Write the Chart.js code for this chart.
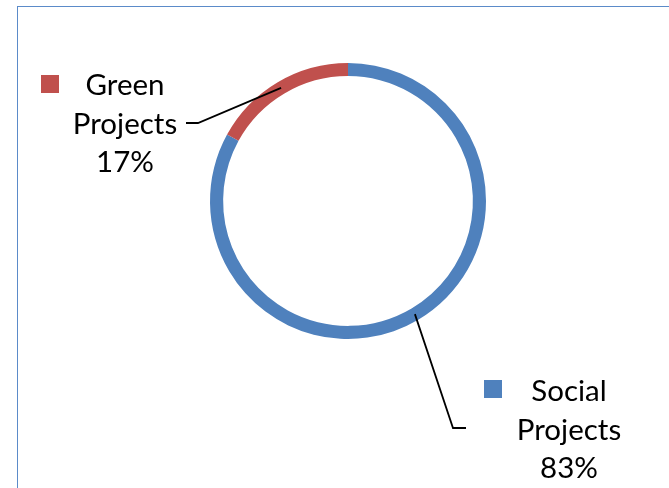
<!DOCTYPE html>
<html>
<head>
<meta charset="utf-8">
<script src="https://cdn.jsdelivr.net/npm/chart.js@4"></script>
<style>
html,body{margin:0;padding:0;background:#fff;}
#wrap{position:relative;width:669px;height:488px;overflow:hidden;}
#frame{position:absolute;left:17px;top:6px;width:700px;height:600px;border-left:1.5px solid #5b8bc9;border-top:1.5px solid #5b8bc9;box-sizing:border-box;}
canvas{position:absolute;left:0;top:0;}
</style>
</head>
<body>
<div id="wrap">
<div id="frame"></div>
<canvas id="c" width="669" height="488"></canvas>
</div>
<script>
const categories = ["Social Projects", "Green Projects"];
const values = [83, 17];
const colors = ["#4F81BD", "#C0504D"];

// label layout: center x, first baseline, square pos, leader elbow and end
const labelLayout = [
  {cx: 569, y0: 401, sq: [484, 380], elbow: [453, 428], end: [466, 428]},
  {cx: 125, y0: 95, sq: [41, 75], elbow: [198, 123], end: [186, 123]}
];

const labelPlugin = {
  id: 'labels',
  afterDatasetsDraw(chart) {
    const ctx = chart.ctx;
    const meta = chart.getDatasetMeta(0);
    const total = values.reduce((a, b) => a + b, 0);
    ctx.save();
    meta.data.forEach((arc, i) => {
      const L = labelLayout[i];
      const mid = (arc.startAngle + arc.endAngle) / 2;
      const r = (arc.innerRadius + arc.outerRadius) / 2;
      const sx = arc.x + Math.cos(mid) * r;
      const sy = arc.y + Math.sin(mid) * r;
      ctx.strokeStyle = '#000';
      ctx.lineWidth = 1.8;
      ctx.beginPath();
      ctx.moveTo(sx, sy);
      ctx.lineTo(L.elbow[0], L.elbow[1]);
      ctx.lineTo(L.end[0], L.end[1]);
      ctx.stroke();
      ctx.fillStyle = colors[i];
      ctx.fillRect(L.sq[0], L.sq[1], 18, 18);
      ctx.fillStyle = '#000';
      ctx.font = '29.5px Lato';
      ctx.textAlign = 'center';
      ctx.textBaseline = 'alphabetic';
      const words = categories[i].split(' ');
      const pct = Math.round(values[i] / total * 100) + '%';
      const lines = [words[0], words[1], pct];
      lines.forEach((t, k) => ctx.fillText(t, L.cx, L.y0 + k * 38.5));
    });
    ctx.restore();
  }
};

new Chart(document.getElementById('c'), {
  type: 'doughnut',
  data: {
    labels: categories,
    datasets: [{
      data: values,
      backgroundColor: colors,
      borderWidth: 0
    }]
  },
  options: {
    responsive: false,
    animation: false,
    cutout: '90.5%',
    layout: {padding: {left: 210, right: 183, top: 63, bottom: 149}},
    plugins: {legend: {display: false}, tooltip: {enabled: false}}
  },
  plugins: [labelPlugin]
});
</script>
</body>
</html>
